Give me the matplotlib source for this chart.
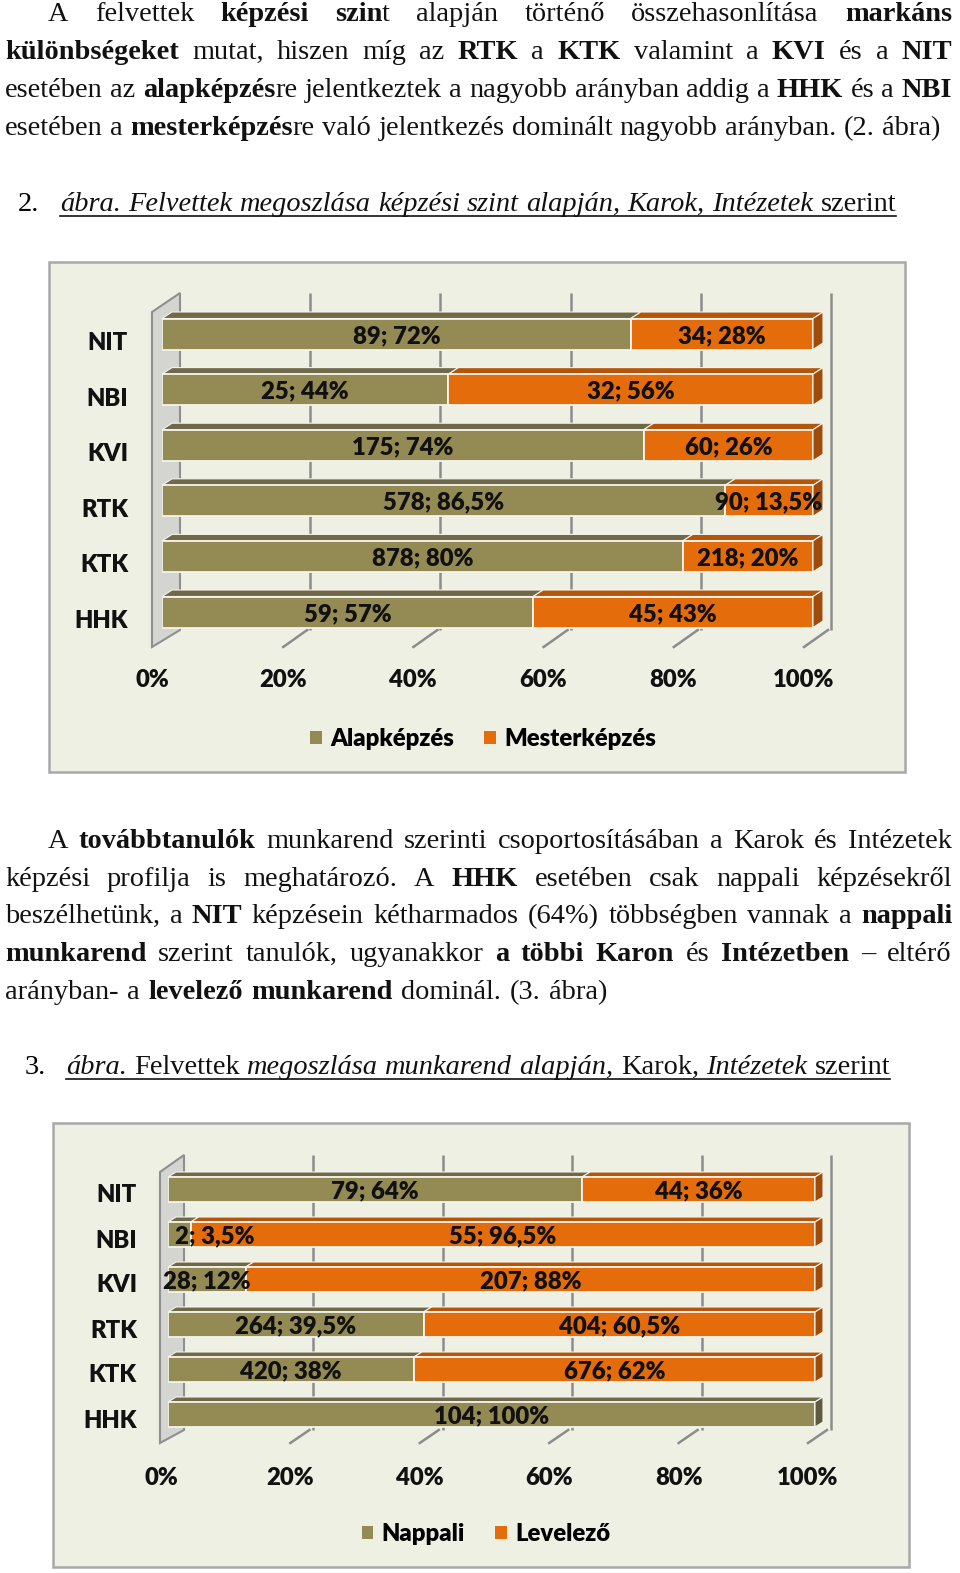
import matplotlib
matplotlib.use('Agg')
import matplotlib.pyplot as plt
from matplotlib.patches import Polygon, Rectangle, Patch
from matplotlib.lines import Line2D
from matplotlib.font_manager import FontProperties

# ---------------- data ----------------
categories = ['HHK', 'KTK', 'RTK', 'KVI', 'NBI', 'NIT']   # bottom -> top
alap_n = [59, 878, 578, 175, 25, 89]
alap_pct = [57, 80, 86.5, 74, 44, 72]
mester_n = [45, 218, 90, 60, 32, 34]
mester_pct = [43, 20, 13.5, 26, 56, 28]

nappali_n = [104, 420, 264, 28, 2, 79]
nappali_pct = [100, 38, 39.5, 12, 3.5, 64]
levelezo_n = [0, 676, 404, 207, 55, 44]
levelezo_pct = [0, 62, 60.5, 88, 96.5, 36]

xticks = [0, 20, 40, 60, 80, 100]
xticklabels = ['0%', '20%', '40%', '60%', '80%', '100%']

para1 = [
    "A felvettek **képzési szin**t alapján történő összehasonlítása **markáns**",
    "**különbségeket** mutat, hiszen míg az **RTK** a **KTK** valamint a **KVI** és a **NIT**",
    "esetében az **alapképzés**re jelentkeztek a nagyobb arányban addig a **HHK** és a **NBI**",
    "esetében a **mesterképzés**re való jelentkezés dominált nagyobb arányban. (2. ábra)",
]
caption1 = ("2.", "__ábra. Felvettek megoszlása képzési szint alapján, Karok, Intézetek__ szerint")
para2 = [
    "A **továbbtanulók** munkarend szerinti csoportosításában a Karok és Intézetek",
    "képzési profilja is meghatározó. A **HHK** esetében csak nappali képzésekről",
    "beszélhetünk, a **NIT** képzésein kétharmados (64%) többségben vannak a **nappali**",
    "**munkarend** szerint tanulók, ugyanakkor **a többi Karon** és **Intézetben** – eltérő",
    "arányban- a **levelező munkarend** dominál. (3. ábra)",
]
caption2 = ("3.", "__ábra.__ Felvettek __megoszlása munkarend alapján,__ Karok, __Intézetek__ szerint")

# ---------------- figure ----------------
W, H = 960, 1573
fig = plt.figure(figsize=(W / 100, H / 100), dpi=100)
fig.patch.set_facecolor('white')
renderer = fig.canvas.get_renderer()

SERIF = ['Liberation Serif', 'DejaVu Serif']
SANS = ['Lato', 'DejaVu Sans']
CW = 800   # chart font weight


def fprop(bold, ital, size, family=SERIF):
    return FontProperties(family=family, weight='bold' if bold else 'normal',
                          style='italic' if ital else 'normal', size=size)


def text_width(s, fp):
    t = fig.text(0, 0, s, fontproperties=fp)
    w = t.get_window_extent(renderer).width
    t.remove()
    return w


def parse(line):
    words = []
    bold = ital = False
    for raw in line.split(' '):
        if raw == '':
            continue
        runs, cur, i = [], '', 0
        while i < len(raw):
            if raw.startswith('**', i):
                if cur:
                    runs.append((cur, bold, ital)); cur = ''
                bold = not bold; i += 2
            elif raw.startswith('__', i):
                if cur:
                    runs.append((cur, bold, ital)); cur = ''
                ital = not ital; i += 2
            else:
                cur += raw[i]; i += 1
        if cur:
            runs.append((cur, bold, ital))
        words.append(runs)
    return words


def word_widths(words, fs):
    return [[text_width(t, fprop(b, i, fs)) for (t, b, i) in runs] for runs in words]


def draw_line(line, y, x0, x1, fs):
    words = parse(line)
    widths = word_widths(words, fs)
    totals = [sum(w) for w in widths]
    n = len(words)
    gap = (x1 - x0 - sum(totals)) / (n - 1) if n > 1 else 0
    x = x0
    for runs, ws in zip(words, widths):
        rx = x
        for (t, b, i), w in zip(runs, ws):
            fig.text(rx / W, 1 - y / H, t, fontproperties=fprop(b, i, fs),
                     va='baseline', ha='left', color='#111111')
            rx += w
        x += sum(ws) + gap


# font size fitted so that the (unjustified) last line has its natural width
base = 20
ws = word_widths(parse(para1[3]), base)
sp = text_width('a a', fprop(False, False, base)) - text_width('aa', fprop(False, False, base))
nat = sum(sum(w) for w in ws) + sp * (len(ws) - 1)
FS = base * 935 / nat

# paragraph 1
p1_lines = [(para1[0], 21, 48, 952), (para1[1], 59, 5, 952),
            (para1[2], 97, 5, 952), (para1[3], 135, 5, 940)]
for line, y, a, b in p1_lines:
    draw_line(line, y, a, b, FS)

# caption 1
fig.text(18 / W, 1 - 211 / H, caption1[0], fontproperties=fprop(False, False, FS), va='baseline')
draw_line(caption1[1], 211, 60, 896, FS)
fig.add_artist(Line2D([60 / W, 896 / W], [1 - 216 / H] * 2, transform=fig.transFigure,
                      color='#111111', lw=1.2))

# paragraph 2
p2_lines = [(para2[0], 848, 48, 952), (para2[1], 886, 5, 952), (para2[2], 923, 5, 952),
            (para2[3], 961, 5, 952), (para2[4], 999, 5, 607)]
for line, y, a, b in p2_lines:
    draw_line(line, y, a, b, FS)

# caption 2
fig.text(25 / W, 1 - 1074 / H, caption2[0], fontproperties=fprop(False, False, FS), va='baseline')
draw_line(caption2[1], 1074, 66, 890, FS)
fig.add_artist(Line2D([66 / W, 890 / W], [1 - 1079 / H] * 2, transform=fig.transFigure,
                      color='#111111', lw=1.2))

# ---------------- charts ----------------
BG = '#EEF0E4'
BORDER = '#A8A8A8'
OLIVE, OLIVE_TOP, OLIVE_SIDE = '#948A54', '#6F6949', '#5F5A3E'
ORANGE, ORANGE_TOP, ORANGE_SIDE = '#E46C0A', '#B3560C', '#A04B0A'
GRID = '#8C8C8C'
CFS = 17.2


def fmt(n, p):
    ps = ('%g' % p).replace('.', ',')
    return '%d; %s%%' % (n, ps)


def ctext(ax, x, y, s, **kw):
    ax.text(x, y, s, fontsize=CFS, fontweight=CW, family=SANS, color='#111111',
            clip_on=False, **kw)


def draw_chart(g, s1n, s1p, s2n, s2p, names):
    bx0, by0, bx1, by1 = g['box']
    fig.add_artist(Rectangle((bx0 / W, 1 - by1 / H), (bx1 - bx0) / W, (by1 - by0) / H,
                             transform=fig.transFigure, fc=BG, ec=BORDER, lw=1.8, zorder=-5))
    x0, x1 = g['bar_x0'], g['bar_x1']
    bc, spc = g['bottom_center'], g['spacing']
    ax = fig.add_axes([x0 / W, 1 - (bc + spc / 2) / H, (x1 - x0) / W, 6 * spc / H])
    ax.set_xlim(0, 100)
    ax.set_ylim(-0.5, 5.5)
    ax.axis('off')
    ux = 100.0 / (x1 - x0)          # data units per px (x)
    uy = 1.0 / spc                  # data units per px (y)

    def yd(p):
        return (bc - p) / spc

    # gridlines (back wall) and floor ticks
    for xt in xticks[1:]:
        ax.plot([xt + g['back_off'] * ux] * 2, [yd(g['grid_top']), yd(g['floor_back'])],
                color=GRID, lw=1.8, zorder=1, clip_on=False, solid_capstyle='butt')
        ax.plot([xt + g['floor_back_off'] * ux, xt + g['front_off'] * ux],
                [yd(g['floor_back']), yd(g['floor_front'])],
                color=GRID, lw=1.8, zorder=1, clip_on=False)
    # left wall
    xf = (g['front_off'] - 1) * ux
    xb = g['back_off'] * ux
    ax.add_patch(Polygon([(xf, yd(g['wall_top_front'])), (xb, yd(g['grid_top'])),
                          (xb, yd(g['floor_back'])), (xf, yd(g['floor_front']))],
                         closed=True, fc='#D4D4D0', ec='#8F8F8F', lw=1.5, zorder=1.5, clip_on=False))

    bh = g['bar_h'] / spc
    ddx, ddy = g['depth'][0] * ux, g['depth'][1] * uy
    ypos = list(range(len(categories)))

    ax.barh(ypos, s1p, height=bh, left=0, color=OLIVE, edgecolor='#F4F4EC', lw=1.3, zorder=3)
    ax.barh(ypos, s2p, height=bh, left=s1p, color=ORANGE, edgecolor='#F4F4EC', lw=1.3, zorder=3)

    for i in ypos:
        top, bot = i + bh / 2, i - bh / 2
        segs = [(0, s1p[i], OLIVE_TOP, OLIVE_SIDE, s1n[i], s1p[i]),
                (s1p[i], s1p[i] + s2p[i], ORANGE_TOP, ORANGE_SIDE, s2n[i], s2p[i])]
        segs = [s for s in segs if s[1] > s[0]]
        for l, r, ct, cs, n, p in segs:
            ax.add_patch(Polygon([(l, top), (r, top), (r + ddx, top + ddy), (l + ddx, top + ddy)],
                                 closed=True, fc=ct, ec='#F4F4EC', lw=0.8, zorder=2.5, clip_on=False))
        l, r, ct, cs, n, p = segs[-1]
        ax.add_patch(Polygon([(r, top), (r + ddx, top + ddy), (r + ddx, bot + ddy), (r, bot)],
                             closed=True, fc=cs, ec='#F4F4EC', lw=0.8, zorder=2.5, clip_on=False))
        # data labels
        for l, r, ct, cs, n, p in segs:
            lab = fmt(n, p)
            if r - l < 5:
                ctext(ax, l + 7 * ux, i - 2 * uy, lab, ha='left', va='center', zorder=6)
            else:
                ctext(ax, (l + r) / 2, i - 2 * uy, lab, ha='center', va='center', zorder=6)
        # category labels
        ctext(ax, (g['cat_right'] - x0) * ux, i - g['cat_dy'] * uy, categories[i],
              ha='right', va='center')
    # x tick labels
    for xt, lab in zip(xticks, xticklabels):
        ctext(ax, xt + g['tick_off'] * ux, yd(g['tick_y']), lab, ha='center', va='center')
    # legend
    handles = [Patch(fc=OLIVE, ec='none'), Patch(fc=ORANGE, ec='none')]
    fig.legend(handles, names, loc='center',
               bbox_to_anchor=(g['legend'][0] / W, 1 - g['legend'][1] / H),
               ncol=2, frameon=False, handlelength=0.5, handleheight=0.5,
               handletextpad=0.35, columnspacing=1.25,
               prop=FontProperties(family=SANS, weight=CW, size=CFS))


g1 = dict(box=(49, 262, 905, 772), bar_x0=162, bar_x1=813, bottom_center=612, spacing=55.6,
          bar_h=31, depth=(10, 6.5), back_off=18, grid_top=293, floor_back=630, floor_front=647,
          front_off=-9, floor_back_off=15, wall_top_front=312, tick_off=-9.5, tick_y=680,
          cat_right=128, cat_dy=9, legend=(483, 739))
g2 = dict(box=(53, 1123, 909, 1567), bar_x0=168, bar_x1=815, bottom_center=1414.5, spacing=45,
          bar_h=25, depth=(8, 5), back_off=16, grid_top=1155, floor_back=1430, floor_front=1443,
          front_off=-7, floor_back_off=12, wall_top_front=1172, tick_off=-7, tick_y=1478,
          cat_right=137, cat_dy=6, legend=(486, 1534))

draw_chart(g1, alap_n, alap_pct, mester_n, mester_pct, ['Alapképzés', 'Mesterképzés'])
draw_chart(g2, nappali_n, nappali_pct, levelezo_n, levelezo_pct, ['Nappali', 'Levelező'])

fig.savefig('out.png', dpi=100, facecolor='white')
